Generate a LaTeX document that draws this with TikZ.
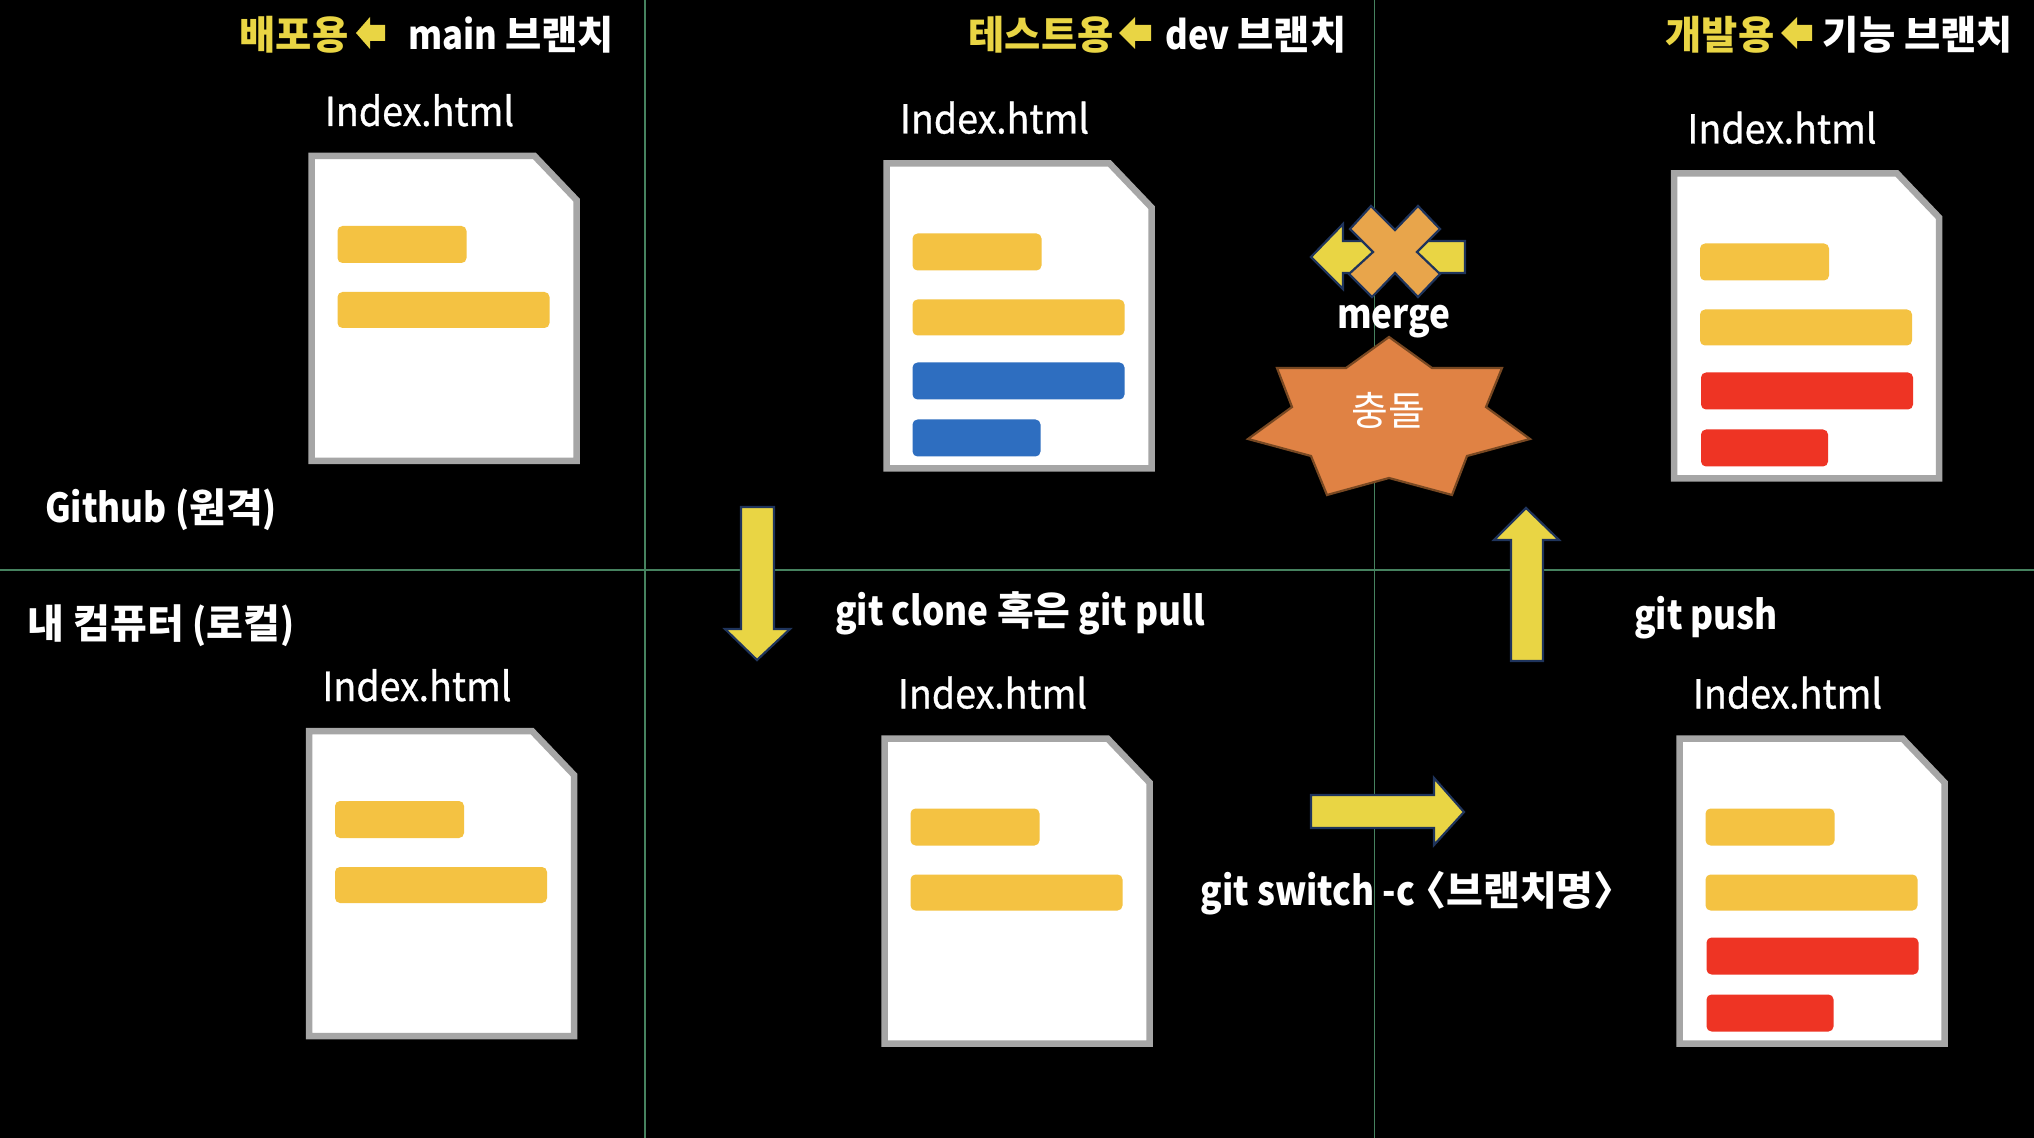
\documentclass[tikz,border=0pt]{standalone}
\usepackage{fontspec}
\setmainfont[FakeStretch=0.88]{Noto Sans CJK KR}
\newfontfamily\hg{Noto Sans CJK KR}
\newfontfamily\idx[FakeStretch=0.94,FakeBold=0.8]{Noto Sans CJK KR}
\usepackage{xcolor}
\usetikzlibrary{positioning}
\definecolor{gridgreen}{RGB}{70,130,95}
\definecolor{docgray}{RGB}{166,166,166}
\definecolor{barorange}{RGB}{244,194,66}
\definecolor{barblue}{RGB}{46,110,192}
\definecolor{barred}{RGB}{238,52,36}
\definecolor{arrowyellow}{RGB}{233,213,68}
\definecolor{arrownavy}{RGB}{31,52,92}
\definecolor{crossorange}{RGB}{232,165,75}
\definecolor{burstorange}{RGB}{224,130,68}
\definecolor{burstbrown}{RGB}{120,72,34}

\begin{document}
\begin{tikzpicture}[
  x=0.5pt, y=-0.5pt,
  grid/.style={draw=gridgreen, line width=0.6pt},
  doc/.style={draw=docgray, fill=white, line width=3.25pt},
  bar/.style={rounded corners=2.5pt},
  block/.style={fill=arrowyellow, draw=arrownavy, line width=1.1pt},
  lbl/.style={text=white, font=\bfseries\fontsize{20}{24}\selectfont, anchor=base, inner sep=0pt},
  lblhead/.style={lbl, font=\bfseries\fontsize{19.7}{24}\selectfont},
  lblyellow/.style={lblhead, text=arrowyellow},
  filename/.style={text=white, font=\idx\fontsize{20}{24}\selectfont, anchor=base, inner sep=0pt},
  burstlbl/.style={text=white, font=\hg\fontsize{20}{24}\selectfont, anchor=base, inner sep=0pt}
]
\fill[black] (0,0) rectangle (2034,1138);
\useasboundingbox (0,0) rectangle (2034,1138);

% panel lines
\draw[grid] (0,570) -- (2034,570);
\draw[grid] (645,0) -- (645,1138);
\draw[grid] (1374.5,0) -- (1374.5,1138);

% files
\foreach \n/\x/\y/\kind in {a/308.5/153/0, b/883.5/160.5/1, c/1671/170.5/2, d/306/728/0, e/881.5/735.5/0, f/1676.5/735.5/2} {
  \begin{scope}[shift={(\x,\y)}]
    \draw[doc] (3,3) -- (226,3) -- (268,47) -- (268,308) -- (3,308) -- cycle;
    \fill[barorange, bar] (29,73) rectangle (158,110);
    \fill[barorange, bar] (29,139) rectangle (241,175);
    \ifnum\kind=1
      \fill[barblue, bar] (29,202) rectangle (241,239);
      \fill[barblue, bar] (29,259) rectangle (157,296);
    \fi
    \ifnum\kind=2
      \fill[barred, bar] (30,202) rectangle (242,239);
      \fill[barred, bar] (30,259) rectangle (157,296);
    \fi
    \node[filename] (name\n) at (111,-27) {Index.html};
  \end{scope}
}

% head row
\node[lblyellow] (deploy) at (294,50) {\hg 배포용};
\fill[arrowyellow] (356,33) -- (370,17) -- (370,25) -- (385,25) -- (385,41) -- (370,41) -- (370,49) -- cycle;
\node[lblhead] (mainbranch) at (511,50) {main {\hg 브랜치}};
\node[lblyellow] (test) at (1041,50) {\hg 테스트용};
\fill[arrowyellow] (1119,33) -- (1135,17) -- (1135,25) -- (1151,25) -- (1151,41) -- (1135,41) -- (1135,49) -- cycle;
\node[lblhead] (devbranch) at (1256,50) {dev {\hg 브랜치}};
\node[lblyellow] (develop) at (1720,50) {\hg 개발용};
\fill[arrowyellow] (1781,33) -- (1797,17) -- (1797,25) -- (1812,25) -- (1812,41) -- (1797,41) -- (1797,49) -- cycle;
\node[lblhead] (featbranch) at (1918,50) {\hg 기능 브랜치};

% side labels
\node[lbl] (remote) at (161,523) {Github ({\hg 원격})};
\node[lbl] (local) at (161,639) {{\hg 내 컴퓨터} ({\hg 로컬})};

% block arrows
\draw[block] (741,507) -- (774,507) -- (774,629) -- (790,629) -- (757,660) -- (725,629) -- (741,629) -- cycle;
\draw[block] (1511,661) -- (1543,661) -- (1543,540) -- (1559,540) -- (1526,508) -- (1494,540) -- (1511,540) -- cycle;
\draw[block] (1311,795) -- (1434,795) -- (1434,778) -- (1464,812) -- (1434,845) -- (1434,828) -- (1311,828) -- cycle;
\draw[block] (1465,241) -- (1343,241) -- (1343,224) -- (1311,257) -- (1343,289) -- (1343,273) -- (1465,273) -- cycle;
\draw[block, fill=crossorange] (1371,206) -- (1395,230) -- (1418,206) -- (1440,229) -- (1417,252) -- (1440,274) -- (1418,297) -- (1395,273) -- (1372,297) -- (1349,274) -- (1373,252) -- (1350,229) -- cycle;

% conflict
\draw[fill=burstorange, draw=burstbrown, line width=1.1pt] (1389,337) -- (1432,368) -- (1502,368) -- (1486,407) -- (1530,439) -- (1467,456) -- (1452,495) -- (1389,478) -- (1327,495) -- (1311,456) -- (1248,439) -- (1292,407) -- (1277,368) -- (1346,368) -- cycle;
\node[burstlbl] (conflict) at (1388,426) {충돌};

\node[lbl] (merge) at (1394,329) {merge};
\node[lbl] (pull) at (1020,625) {git clone {\hg 혹은} git pull};
\node[lbl] (push) at (1706,629) {git push};
\node[lbl] (switch) at (1417,905) {git switch -c\hspace{-8.5pt} {\hg 〈브랜치명〉}};
\end{tikzpicture}
\end{document}
